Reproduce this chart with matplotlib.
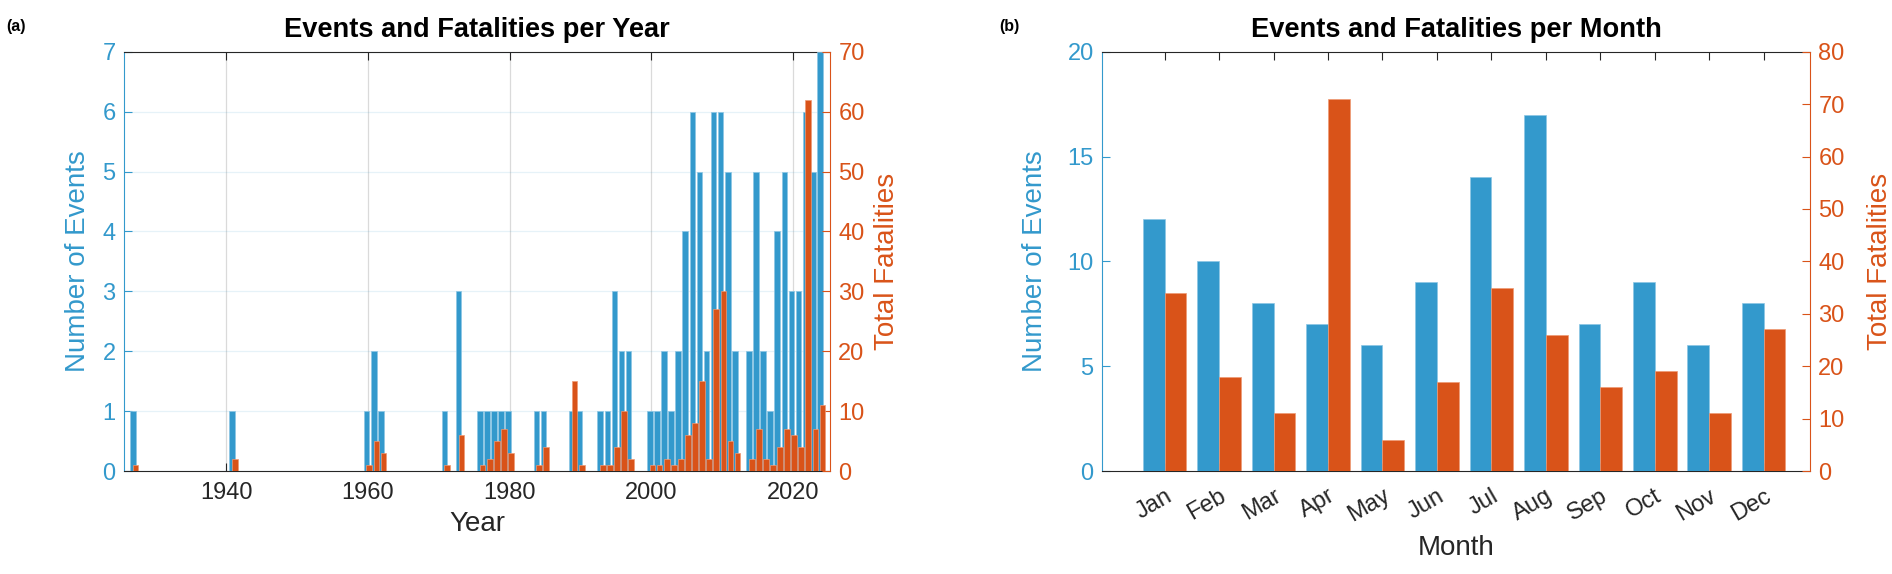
import matplotlib
matplotlib.use("Agg")
import matplotlib.pyplot as plt
import numpy as np

# ---------------- data ----------------
years = [1927, 1941, 1960, 1961, 1962, 1971, 1973, 1976, 1977, 1978, 1979, 1980,
         1984, 1985, 1989, 1990, 1993, 1994, 1995, 1996, 1997, 2000, 2001, 2002,
         2003, 2004, 2005, 2006, 2007, 2008, 2009, 2010, 2011, 2012, 2014, 2015,
         2016, 2017, 2018, 2019, 2020, 2021, 2022, 2023, 2024]
events_year = [1, 1, 1, 2, 1, 1, 3, 1, 1, 1, 1, 1,
               1, 1, 1, 1, 1, 1, 3, 2, 2, 1, 1, 2,
               1, 2, 4, 6, 5, 2, 6, 6, 5, 2, 2, 5,
               2, 1, 4, 5, 3, 3, 6, 5, 7]
fatal_year = [1, 2, 1, 5, 3, 1, 6, 1, 2, 5, 7, 3,
              1, 4, 15, 1, 1, 1, 4, 10, 2, 1, 1, 2,
              1, 2, 6, 8, 15, 2, 27, 30, 5, 3, 2, 7,
              2, 1, 4, 7, 6, 4, 62, 7, 11]

months = ["Jan", "Feb", "Mar", "Apr", "May", "Jun",
          "Jul", "Aug", "Sep", "Oct", "Nov", "Dec"]
events_month = [12, 10, 8, 7, 6, 9, 14, 17, 7, 9, 6, 8]
fatal_month = [34, 18, 11, 71, 6, 17, 35, 26, 16, 19, 11, 27]

year_ticks = [1940, 1960, 1980, 2000, 2020]

# ---------------- style ----------------
BLUE = "#3399CC"
ORANGE = "#D95319"
DARK = "#262626"
plt.rcParams["font.family"] = ["Liberation Sans", "DejaVu Sans"]

W, H = 1892, 574
fig = plt.figure(figsize=(W / 100, H / 100), dpi=100)

def frac_box(x0, x1, ytop, ybot):
    return [x0 / W, (H - ybot) / H, (x1 - x0) / W, (ybot - ytop) / H]

TICK_FS = 17
LAB_FS = 20
TITLE_FS = 19.6


def style_axes(ax1, ax2):
    for s in ["top", "bottom"]:
        ax1.spines[s].set_color(DARK)
        ax1.spines[s].set_linewidth(0.8)
    ax1.spines["left"].set_color(BLUE)
    ax1.spines["right"].set_visible(False)
    for s in ["left", "top", "bottom"]:
        ax2.spines[s].set_visible(False)
    ax2.spines["right"].set_color(ORANGE)
    ax1.tick_params(axis="x", direction="in", top=True, length=6, width=0.8,
                    colors=DARK, labelsize=TICK_FS, labelcolor=DARK, pad=8)
    ax1.tick_params(axis="y", direction="in", length=6, width=0.8,
                    colors=BLUE, labelsize=TICK_FS, pad=6)
    ax2.tick_params(axis="y", direction="in", length=6, width=0.8,
                    colors=ORANGE, labelsize=TICK_FS, pad=6)


# ---------------- panel (a) ----------------
ax1 = fig.add_axes(frac_box(124, 830, 51.7, 471))
ax2 = ax1.twinx()
yrs = np.array(years, dtype=float)
ax1.bar(yrs - 0.19, events_year, width=0.8, color=BLUE,
        edgecolor="#8CC6E4", linewidth=0.5, zorder=3)
ax2.bar(yrs + 0.19, fatal_year, width=0.8, color=ORANGE,
        edgecolor="#EE9A75", linewidth=0.5, zorder=3)
ax1.set_xlim(1925.55, 2025.25)
ax1.set_ylim(0, 7)
ax2.set_ylim(0, 70)
ax1.set_yticks(range(0, 8))
ax2.set_yticks(range(0, 71, 10))
ax1.set_xticks(year_ticks)
ax1.grid(axis="x", color="#DADADA", linewidth=0.9, zorder=0)
ax1.grid(axis="y", color=BLUE, alpha=0.12, linewidth=0.9, zorder=0)
ax1.set_axisbelow(True)
style_axes(ax1, ax2)
ax1.set_xlabel("Year", fontsize=LAB_FS, color=DARK, labelpad=5)
ax1.set_ylabel("Number of Events", fontsize=LAB_FS, color=BLUE, labelpad=8)
ax2.set_ylabel("Total Fatalities", fontsize=LAB_FS, color=ORANGE, labelpad=7)
ax1.set_title("Events and Fatalities per Year", fontsize=TITLE_FS,
              fontweight="bold", pad=10.5)

# ---------------- panel (b) ----------------
bx1 = fig.add_axes(frac_box(1102, 1810, 51.7, 471))
bx2 = bx1.twinx()
mpos = np.arange(1, len(months) + 1)
bx1.bar(mpos - 0.2, events_month, width=0.4, color=BLUE,
        edgecolor="#8CC6E4", linewidth=0.5, zorder=3)
bx2.bar(mpos + 0.2, fatal_month, width=0.4, color=ORANGE,
        edgecolor="#EE9A75", linewidth=0.5, zorder=3)
bx1.set_xlim(-0.15, 12.85)
bx1.set_ylim(0, 20)
bx2.set_ylim(0, 80)
bx1.set_yticks(range(0, 21, 5))
bx2.set_yticks(range(0, 81, 10))
bx1.set_xticks(mpos)
bx1.set_xticklabels(months, rotation=30, ha="right", rotation_mode="anchor")
style_axes(bx1, bx2)
bx1.tick_params(axis="x", pad=10)
bx1.set_xlabel("Month", fontsize=LAB_FS, color=DARK, labelpad=6)
bx1.set_ylabel("Number of Events", fontsize=LAB_FS, color=BLUE, labelpad=14)
bx2.set_ylabel("Total Fatalities", fontsize=LAB_FS, color=ORANGE, labelpad=16)
bx1.set_title("Events and Fatalities per Month", fontsize=TITLE_FS,
              fontweight="bold", pad=10.5)

# panel letters
fig.text(6 / W, 1 - 26 / H, "(a)", fontsize=11.5, fontweight="bold", va="center")
fig.text(999 / W, 1 - 26 / H, "(b)", fontsize=11.5, fontweight="bold", va="center")

fig.savefig("out.png", dpi=100)
